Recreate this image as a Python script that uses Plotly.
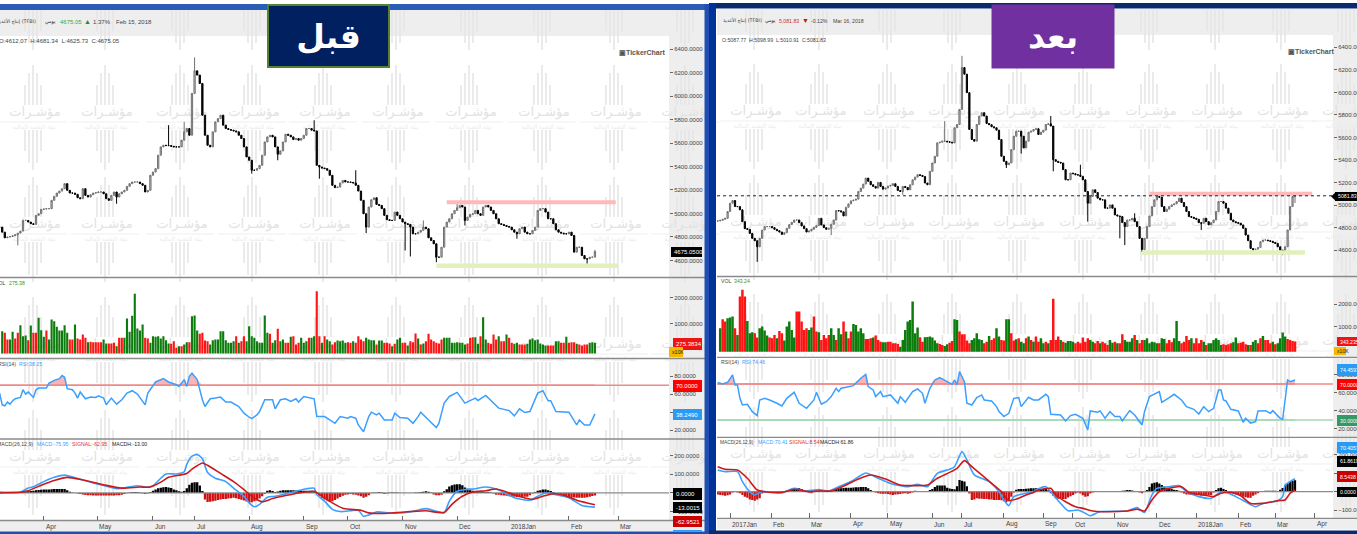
import plotly.graph_objects as go

W, H = 1357, 534

# ---------- BEFORE panel (Feb 15, 2018) ----------
L_close = [4884,4841,4793,4799,4804,4810,4819,4833,4850,4941,4941,4927,4913,4907,4984,4998,5035,5038,5041,5041,
5112,5146,5174,5191,5211,5254,5197,5174,5174,5163,5134,5126,5211,5154,5140,5160,5174,5177,5183,5183,
5168,5126,5112,5154,5183,5140,5168,5183,5197,5231,5254,5268,5268,5268,5254,5240,5183,5197,5325,5353,
5382,5496,5567,5581,5578,5578,5572,5567,5567,5567,5624,5695,5723,5666,6022,6215,6178,6107,5837,5666,
5581,5567,5695,5780,5808,5837,5752,5723,5715,5709,5703,5695,5666,5638,5567,5481,5453,5368,5368,5382,
5410,5496,5609,5652,5666,5652,5567,5504,5533,5609,5675,5666,5652,5629,5638,5624,5638,5666,5723,5723,
5709,5703,5410,5396,5387,5382,5368,5325,5240,5220,5225,5260,5282,5268,5268,5265,5260,5240,5191,5112,
4998,4884,5055,5117,5134,5077,5069,5041,4984,4947,4941,4941,5012,4984,4955,4927,4913,4907,4884,4827,
4827,4841,4856,4884,4870,4793,4770,4742,4628,4628,4713,4884,4927,4955,4998,5026,5049,5069,5055,4941,
4969,4992,4998,5026,4998,4984,5055,5069,5055,5026,4998,4955,4913,4907,4898,4890,4884,4861,4841,4827,
4870,4884,4841,4827,4827,4856,4884,5026,5041,5041,5012,4955,4955,4913,4861,4841,4833,4827,4827,4841,
4813,4671,4713,4713,4642,4614,4614,4628,4628,4675]
L_high_bar = [65,71,75,121,137,163,176,229]
L_high_val = [5752,5780,6329,5794,5368,4941,5097,4690]
L_low_bar = [7,45,97,107,123,141,156,158,168,179,199,226]
L_low_val = [4728,5083,5339,5453,5296,4833,4685,4634,4585,4898,4785,4571]
L_vol_signed = [720,-656,-402,402,694,-440,-656,949,529,554,-376,936,-656,-656,1228,758,503,-745,402,1165,
1101,885,745,745,949,656,-402,-402,974,-440,-402,-592,-465,300,-313,-300,-300,-300,-300,402,
249,-249,-249,-274,147,-465,-465,465,1203,694,1305,2144,821,745,974,-465,-440,274,529,503,
529,440,529,376,249,-236,-338,-84,147,-147,211,300,-300,1292,1317,745,-618,-656,-363,-338,
211,376,402,402,720,720,376,274,274,338,-529,274,-338,-529,338,910,529,465,338,274,
274,1317,656,-618,274,376,-809,338,402,-274,-274,503,-529,-211,-274,465,274,338,-465,465,
529,-2246,-529,274,-529,402,338,-211,-300,363,338,363,274,-300,-274,338,-274,-529,-402,-338,
465,402,376,376,-211,363,363,-274,-274,-249,147,-236,402,465,-274,-274,173,-338,-300,-631,
440,-211,249,-338,-618,-402,-338,-274,-249,-402,465,465,465,274,274,300,274,274,211,-249,
-465,-491,491,236,-529,1254,402,-274,-236,-592,-402,529,-338,-338,592,-465,-274,236,274,-211,
-211,-211,236,402,440,376,402,249,211,173,-173,-173,-173,338,338,-274,-274,503,-274,-300,
-300,236,-211,-173,-211,-211,274,300,275]
L_rsi_bar = [0,1,2,3,4,5,6,8,9,10,11,13,14,15,18,19,21,23,24,25,26,28,29,30,31,33,35,37,38,40,41,43,45,47,49,51,53,55,56,57,
59,60,63,65,68,69,71,72,73,74,76,78,79,80,81,83,85,87,89,92,94,96,97,99,100,102,105,106,108,110,112,114,115,117,121,122,125,127,129,131,134,
135,137,138,140,142,143,145,146,148,151,152,154,157,159,161,162,165,168,169,171,173,176,179,181,183,184,187,189,190,192,196,198,200,202,204,207,209,211,212,214,219,222,223,225,227,229]
L_rsi = [61.3,48.3,47.2,51.3,49,52.8,55,56.5,65.1,60.2,62.5,56.5,65.1,67,67,72.5,75.5,77.4,80.8,78.9,66.2,65.1,61.3,55.8,62.5,55,56.9,56.5,58.4,55.8,48.3,55.8,49,53.9,61.3,64,60.2,52.8,48.3,61.3,
68.8,73.7,77.4,73.7,70.7,68.8,76.3,68.8,80,83.4,76.3,53.9,46.4,50.2,55,55.8,56.9,51.3,51.3,46.4,39,34.5,33,37.1,40.8,53.9,53.9,43.8,53.9,55,52,55,51.3,57.6,55,35.2,35.2,31.5,27.8,35.2,33.4,
35.2,33.4,25.9,18.4,35.2,40.1,37.1,39,31.5,31.5,39,34.1,33.4,27.8,35.2,40.1,31.5,23,27.8,50.2,57.6,62.1,50.2,53.1,55.8,53.1,58.7,53.1,50.2,44.6,41.9,36,43.8,39.7,40.8,61.3,64,52.8,52.8,40.8,40.1,25.9,31.5,25.9,25.9,38.25]
L_macd_bar = [0,8,11,13,17,21,25,29,35,40,45,49,53,56,59,62,64,68,71,72,74,76,78,80,83,87,90,94,96,98,100,103,106,110,114,118,121,122,125,128,131,135,138,140,142,145,151,158,164,171,173,176,179,183,187,191,195,199,204,207,210,214,219,224,229]
L_macd = [5,5,26,33,61,84,96,82,58,40,23,30,39,32,39,79,102,102,114,154,198,207,184,110,79,61,26,-18,-53,-74,-61,-23,-18,-5,9,23,26,-9,-44,-88,-100,-96,-93,-126,-118,-102,-109,-102,-84,-105,-44,9,18,23,32,21,-5,-30,-39,-18,0,-9,-26,-67,-76]
L_signal_bar = [0,8,11,17,21,26,32,40,47,54,58,62,65,72,74,78,80,85,90,94,97,101,105,110,115,121,124,128,132,135,139,142,147,158,164,171,174,178,182,187,191,195,200,205,209,213,217,222,229]
L_signal = [0,4,12,47,67,84,70,44,26,32,32,58,84,105,128,161,149,105,61,18,-18,-47,-30,-14,0,9,-18,-53,-82,-88,-93,-107,-110,-100,-96,-105,-61,-18,5,12,21,5,-18,-35,-18,-4,-12,-39,-63]
L_hist = [0,0,0,0,0,0,0,2,5,7,8,9,11,12,14,16,17,18,19,19,20,21,21,21,21,21,14,7,2,0,
-3,-5,-8,-11,-12,-12,-13,-14,-14,-14,-14,-14,-14,-14,-14,-12,-12,-10,-5,-2,
3,5,5,5,2,-3,-5,-3,5,12,18,25,28,31,32,30,26,18,14,9,7,10,
25,44,55,58,58,40,10,-35,-49,-47,-44,-42,-38,-35,-33,-32,-30,-28,-26,-28,-32,-36,-40,-46,-53,-50,-44,-40,-30,-18,-5,
12,14,10,5,8,12,14,14,14,14,14,13,12,12,12,12,12,12,10,3,
-15,-26,-35,-40,-47,-44,-38,-30,-22,-15,-10,-8,
-5,-8,-10,-14,-18,-26,-20,-12,-2,3,3,5,4,-5,-3,3,3,3,2,0,0,0,0,0,0,2,
3,5,7,9,7,3,-8,-12,-12,-10,9,20,35,42,46,47,47,42,30,22,15,12,9,7,6,6,5,5,2,-3,-9,-10,-12,-14,-15,-18,-19,-21,-22,-23,-23,-21,-20,-12,-3,5,12,15,18,18,15,10,5,-5,-9,-14,-18,-21,-23,-25,-25,-26,-26,-26,-26,-23,-20,-17,-13]
L_month_bar = [-6,17,37.5,59,75,96,117,134,155,176,196,219,238]
L_month = ["2017Mar","Apr","May","Jun","Jul","Aug","Sep","Oct","Nov","Dec","2018Jan","Feb","Mar"]
L_res_bar, L_res_level = [172,237], [5095,5095]
L_sup_bar, L_sup_level = [168,238], [4555,4555]

# ---------- AFTER panel (Mar 16, 2018) ----------
R_close = [4858,4864,4873,4882,4942,5016,5040,4986,4986,4957,4852,4790,4784,4748,4704,4683,4629,4704,4778,4808,
4808,4808,4799,4784,4772,4760,4739,4754,4793,4826,4846,4867,4867,4843,4814,4790,4760,4769,4784,4802,
4817,4882,4823,4799,4784,4793,4829,4867,4951,4948,4939,4903,4980,5010,5037,5043,5052,5120,5150,5186,
5239,5210,5180,5165,5150,5201,5165,5141,5150,5168,5174,5189,5165,5129,5120,5165,5156,5135,5180,5224,
5248,5269,5263,5254,5195,5180,5299,5373,5433,5552,5558,5567,5567,5561,5558,5552,5686,5715,5849,6221,
6162,5998,5671,5582,5567,5715,5790,5820,5790,5724,5713,5695,5686,5665,5582,5433,5388,5358,5373,5492,
5611,5656,5656,5611,5507,5567,5647,5656,5671,5677,5626,5647,5665,5715,5721,5701,5403,5388,5379,5373,
5314,5224,5224,5284,5278,5269,5266,5254,5224,5120,5016,5076,5135,5111,5061,5046,5046,4972,4972,5001,
4972,4912,4903,4897,4844,4808,4867,4867,4882,4852,4808,4704,4605,4704,4808,4903,4986,5046,5076,5070,
4986,4942,4963,4986,5001,5010,5031,5061,5022,4986,4942,4897,4891,4882,4873,4843,4838,4882,4852,4823,
4843,4867,4942,5031,5031,5016,4972,4927,4867,4852,4843,4838,4823,4793,4733,4683,4614,4605,4608,4623,
4674,4689,4689,4683,4677,4668,4659,4629,4599,4585,4629,4778,4986,5076,5082]
R_high_bar = [92,99,135,147,169,234]
R_high_val = [5745,6325,5790,5358,4927,5105]
R_low_bar = [16,46,75,117,123,136,150,163,165,172,196,217,229,234]
R_low_val = [4495,4733,5090,5329,5457,5299,4852,4704,4644,4584,4778,4570,4555,5018]
R_vol_signed = [927,-1329,-1225,1374,1403,1448,-927,630,-2341,-2638,-2341,1255,704,749,-704,-511,927,1002,823,600,
-511,-481,-630,481,-808,-704,377,1002,1225,853,511,-1671,-1671,-1225,-853,-927,853,957,-1448,-778,
749,-406,-630,-481,-630,927,630,-406,927,659,-1225,778,-481,-778,1121,1076,778,927,704,-451,
-451,-481,511,-600,-406,-332,302,302,-332,-332,-258,-258,-228,109,406,853,1225,1299,2118,704,
957,-525,-332,525,540,555,511,377,258,-228,-183,139,213,-287,-362,1329,1299,-778,-659,-659,
-377,-258,406,481,704,436,406,-258,-332,585,-406,-481,927,555,-406,-377,1329,1329,-704,-377,
436,-481,332,258,-481,555,-406,332,
-555,-332,481,258,-332,258,-406,-2237,-406,-555,406,-332,287,362,362,332,-258,-332,-258,-511,
-332,-481,406,332,-258,-362,258,-332,-258,-183,406,287,-332,258,-258,-659,406,332,332,481,
-630,406,-258,-406,406,481,258,332,302,258,-258,481,451,-258,-406,-300,481,1255,362,-258,-332,
-585,-406,481,-258,-481,-258,-406,332,-183,258,258,406,481,406,183,-213,-183,-213,-258,302,
511,-258,-287,-332,-213,183,-183,332,406,-258,-481,585,-406,-406,-258,332,-213,258,481,734,555,-451,-400,-360,-343]
R_rsi_bar = [0,2,4,6,7,8,9,10,12,14,16,17,19,21,24,26,28,31,33,36,39,40,42,44,46,48,49,50,52,55,58,60,61,63,64,66,67,70,73,74,76,79,81,83,84,86,88,90,93,95,96,97,98,100,101,103,105,107,108,111,113,114,116,118,120,122,123,126,128,130,133,134,135,139,141,143,145,148,150,151,154,155,157,159,161,163,164,167,169,172,173,175,179,180,183,185,188,190,193,195,197,199,201,203,204,205,206,208,211,213,214,216,218,219,222,224,225,228,229,230,231,232,234]
R_rsi = [71.5,70,71.8,80,68.9,68.9,54,46.6,47.4,39.2,34.8,52.2,54,52.2,48.5,45.5,54,60.7,48.5,42.9,52.2,60.7,47.4,50.3,55.9,65.2,61.5,65.2,66.3,68.1,76.3,80.7,67,63.3,55.9,61.5,55.9,57.8,48.5,55.9,49.6,61.5,64.4,59.6,48.5,65.2,74.4,77,72.6,69.6,74.4,68.9,83.7,72.6,48.5,46.6,54.8,57.8,52.2,51.1,44.8,39.2,33.7,37.4,54,54.8,44.8,55.2,52.2,52.2,58.5,55.9,36.3,35.5,28.9,34.8,36.3,31.8,18.9,40,38.5,40,31.8,39.2,33.7,33.7,28.9,40.3,35.5,24.4,39.2,55.9,61.5,49.6,54.8,58.5,52.2,44.8,41.8,36.6,44.8,39.2,42.9,63.3,63.3,52.2,51.1,41.8,40,27.4,31.8,26.3,28.1,40,40.3,37.4,40.3,31.8,30.7,54,74.4,72.6,74.46]
R_macd_bar = [0,3,8,10,13,15,18,26,31,35,41,45,49,54,60,65,70,77,81,85,89,94,96,99,101,104,110,114,116,118,120,125,128,129,133,135,139,142,146,149,151,155,166,170,173,176,178,183,187,190,195,200,203,206,210,214,218,221,227,229,230,232,234]
R_macd = [118,109,109,55,0,-18,0,-5,18,4,11,4,27,55,102,73,45,27,40,27,100,122,136,218,173,91,55,0,-45,-76,-27,-9,0,9,27,0,-64,-104,-100,-118,-131,-109,-105,-87,-113,-18,18,27,33,0,-27,-36,-9,-4,-27,-55,-82,-64,-49,-27,36,55,70]
R_signal_bar = [0,3,8,12,16,19,26,31,37,41,46,52,57,62,68,74,79,85,89,94,97,100,103,107,111,115,118,122,125,128,130,135,137,141,145,148,152,156,166,170,173,176,179,183,188,191,197,201,204,208,212,216,221,227,230,232,234]
R_signal = [136,122,118,73,9,0,-4,13,0,4,4,36,69,91,69,36,33,36,73,105,127,169,136,91,45,0,-49,-36,-18,-4,9,18,-18,-55,-82,-91,-105,-109,-105,-96,-105,-45,0,18,27,-4,-18,-27,-9,-4,-22,-64,-64,-49,-45,-9,8.5]
R_hist = [-16,-18,-20,-22,-20,-15,-5,0,-5,-9,-18,-27,-33,-42,-46,-50,-42,-36,-10,-5,0,-2,-2,-2,-3,-3,-4,-3,3,8,11,14,17,18,14,9,2,-5,-9,-3,7,6,5,4,4,6,9,12,15,17,18,20,21,22,22,23,24,24,25,25,25,18,9,3,-5,-9,-11,-11,-12,-13,-15,-18,-16,-14,-13,-10,-8,
-11,-9,-5,5,4,4,4,4,4,9,15,25,33,33,33,33,22,17,14,13,30,64,60,55,30,-10,-45,-42,-36,-38,-38,-40,-40,-42,-42,-45,-45,-45,-47,-52,-58,-45,-27,-5,10,15,15,15,16,17,18,18,18,17,15,16,18,8,-9,-22,-36,-38,-38,-40,-40,-32,-25,-18,-10,-4,-10,-20,-27,-25,-10,-4,0,3,4,2,-2,0,4,4,4,4,4,5,7,9,9,6,4,1,-5,-9,-2,9,25,45,48,51,45,36,28,22,18,14,11,9,5,-4,-10,-15,-15,-18,-18,-20,-20,-22,-22,-21,-20,-18,-5,9,18,22,15,9,0,-5,-10,-15,-18,-22,-27,-30,-33,-33,-22,-15,-9,0,3,5,5,5,5,5,4,10,20,36,45,55,60,62]
R_month_bar = [5,21.6,37,54,69,87,99,116,132,144,161,178,194,211,226,242]
R_month = ["2017Jan","Feb","Mar","Apr","May","Jun","Jul","Aug","Sep","Oct","Nov","Dec","2018Jan","Feb","Mar","Apr"]
R_res_bar, R_res_level = [175,241], [5100,5100]
R_sup_bar, R_sup_level = [172,238], [4578,4578]
R_last = 5081.83

price_ticks = [4600,4800,5000,5200,5400,5600,5800,6000,6200,6400]
vol_ticks = [1000,2000]
rsi_ticks = [20,40,60,80]
macd_ticks = [-100,0,100,200]

# ---------- pixel layout ----------
FONT = "Liberation Sans"
ARABIC = "DejaVu Sans"
FS = 6
LEG = 5.2
px = lambda x: x / W
py = lambda y: 1 - y / H

L = dict(x0=0, x1=669, xr=705, rng=[0.15, 257.5], seps=[277.5, 358.5, 439, 520.5], top=36, barw=0.82,
         price=[4455, 6511], vol=[-324, 2767], floor=-134, rsi=[10.3, 99.8], macd=[-148, 290])
R = dict(x0=717, x1=1333, xr=1357, rng=[-0.3, 249.4], seps=[276.5, 357.3, 437.3, 518.3], top=35, barw=1.0,
         price=[4365, 6510], vol=[-366, 3232], floor=-116, rsi=[10.7, 99.6], macd=[-145, 296])

fig = go.Figure()
shapes, anns = [], []

def rect(x0, y0, x1, y1, color, layer="below"):
    shapes.append(dict(type="rect", xref="paper", yref="paper", x0=px(x0), x1=px(x1), y0=py(y0), y1=py(y1),
                       fillcolor=color, line=dict(width=0), layer=layer))

def hline(x0, x1, y, color, w=1.5, layer="above"):
    shapes.append(dict(type="line", xref="paper", yref="paper", x0=px(x0), x1=px(x1), y0=py(y), y1=py(y),
                       line=dict(color=color, width=w), layer=layer))

def text(x, y, s, color="#444", size=FS, anchor="left", font=FONT):
    anns.append(dict(xref="paper", yref="paper", x=px(x), y=py(y), text=s, showarrow=False, xanchor=anchor,
                     yanchor="middle", borderpad=0, font=dict(color=color, size=size, family=font)))

def box(x0, y0, x1, y1, s, bg, fg="white", size=FS):
    rect(x0, y0, x1, y1, bg, "above")
    text(x0 + 2, (y0 + y1) / 2, s, fg, size)

# chart frames and grey bands
for P, top_y0, top_y1, bottom_y0 in ((L, 10, 36, 520.5), (R, 9, 35, 518.3)):
    rect(P["x0"] if P is R else 0, top_y0, P["xr"], top_y1, "#eeeeee")
    rect(P["x1"], top_y0, P["xr"], bottom_y0 + 11, "#eeeeee")
    rect(P["x0"] if P is R else 0, bottom_y0, P["xr"], bottom_y0 + 11, "#eeeeee")
    for s in P["seps"]:
        hline(P["x0"], P["xr"], s, "#8a8a8a", 1.3)
rect(0, 4, 709, 10, "#2a5db5", "above")
rect(704.5, 4, 709, 534, "#1f50b0", "above")
rect(0, 531.5, 709, 534, "#1f50b0", "above")
rect(709, 3, 1357, 8.5, "#0b2a6e", "above")
rect(709, 3, 716, 534, "#003399", "above")
rect(709, 530.5, 1357, 534, "#0b2a6e", "above")

# watermark tiles (decorative background, pixel-positioned axes)
wm_cols_L = [33,105,180,252,323,396,469,542,614,685]
wm_cols_R = [754,819,887,952,1017,1083,1149,1215,1281,1346]
wm_rows_L = [-7,113,225,345,458]
wm_rows_R = [-7,112,223,342,455]
bx, by, lx, ly, tx, ty, sx, sy = [], [], [], [], [], [], [], []
for cols, rows in ((wm_cols_L, wm_rows_L), (wm_cols_R, wm_rows_R)):
    for c in cols:
        for T in rows:
            for dx, up, dn in ((-8, 28, 38), (-4, 40, 50), (0, 48, 57), (4, 40, 50), (8, 28, 38)):
                bx += [c + dx, c + dx, None, c + dx, c + dx, None]
                by += [T - up, T - 8, None, T + 17, T + dn, None]
            if T > 0:
                lx += [c - 34, c + 34, None]
                ly += [T + 9, T + 9, None]
                tx.append(c + 2); ty.append(T)
                sx.append(c + 1); sy.append(T + 14)
fig.add_trace(go.Scatter(x=bx, y=by, mode="lines", line=dict(color="#e4e4e4", width=1.5), xaxis="x", yaxis="y"))
fig.add_trace(go.Scatter(x=lx, y=ly, mode="lines", line=dict(color="#efefef", width=1), xaxis="x", yaxis="y"))
fig.add_trace(go.Scatter(x=tx, y=ty, mode="text", text=["مؤشـرات"] * len(tx), xaxis="x", yaxis="y",
                         textfont=dict(color="#e2e2e2", size=13, family=ARABIC)))
fig.add_trace(go.Scatter(x=sx, y=sy, mode="text", text=["بيئة التقنية المالية"] * len(sx), xaxis="x", yaxis="y",
                         textfont=dict(color="#ececec", size=6, family=ARABIC)))

axes = dict(
    xaxis=dict(domain=[0, 1], range=[0, W], visible=False, fixedrange=True),
    yaxis=dict(domain=[0, 1], range=[H, 0], visible=False, fixedrange=True),
)

def aligned(series, last):
    return list(range(last - len(series) + 1, last + 1))

def panel(P, xn, yn, close, hb, hv, lb, lv, vols, rb, rv, mb, mv, sb, sv, hist, mbar, mname,
          res_b, res_l, sup_b, sup_l, with_low, last_line=None):
    xa, ya = f"x{xn}", [f"y{yn + i}" for i in range(4)]
    n = len(close) - 1
    opens = [close[0]] + close[:-1]
    highs = [max(a, b) for a, b in zip(opens, close)]
    lows = [min(a, b) for a, b in zip(opens, close)]
    for b, v in zip(hb, hv):
        highs[b] = v
    for b, v in zip(lb, lv):
        lows[b] = v
    # support / resistance bands
    fig.add_trace(go.Scatter(x=res_b, y=res_l, mode="lines", line=dict(color="#ffb9b9", width=4), xaxis=xa, yaxis=ya[0]))
    fig.add_trace(go.Scatter(x=sup_b, y=sup_l, mode="lines", line=dict(color="#e2f0bd", width=4.5), xaxis=xa, yaxis=ya[0]))
    if last_line is not None:
        fig.add_trace(go.Scatter(x=P["rng"], y=[last_line, last_line], mode="lines",
                                 line=dict(color="#222", width=1, dash="dot"), xaxis=xa, yaxis=ya[0]))
    fig.add_trace(go.Candlestick(x=list(range(n + 1)), open=opens, high=highs, low=lows, close=close, whiskerwidth=0,
                                 increasing=dict(line=dict(color="#707070", width=1), fillcolor="#c8c8c8"),
                                 decreasing=dict(line=dict(color="#000000", width=1), fillcolor="#000000"),
                                 xaxis=xa, yaxis=ya[0]))
    # volume
    fig.add_trace(go.Bar(x=aligned(vols, n), y=[abs(v) - P["floor"] for v in vols], base=P["floor"], width=P["barw"],
                         marker=dict(color=["#0c7c0c" if v > 0 else "#ff1414" for v in vols], line=dict(width=0)),
                         xaxis=xa, yaxis=ya[1]))
    # RSI
    hi = [max(v, 70) for v in rv]
    fig.add_trace(go.Scatter(x=rb, y=[70] * len(rb), mode="lines", line=dict(color="#f08a8a", width=1.4), xaxis=xa, yaxis=ya[2]))
    fig.add_trace(go.Scatter(x=rb, y=hi, mode="lines", line=dict(width=0), fill="tonexty", fillcolor="#f9b5b5", xaxis=xa, yaxis=ya[2]))
    if with_low:
        lo = [min(v, 30) for v in rv]
        fig.add_trace(go.Scatter(x=rb, y=[30] * len(rb), mode="lines", line=dict(color="#a5d8b5", width=1.4), xaxis=xa, yaxis=ya[2]))
        fig.add_trace(go.Scatter(x=rb, y=lo, mode="lines", line=dict(width=0), fill="tonexty", fillcolor="#c4e6cf", xaxis=xa, yaxis=ya[2]))
    fig.add_trace(go.Scatter(x=P["rng"], y=[70, 70], mode="lines", line=dict(color="#f08a8a", width=1.4), xaxis=xa, yaxis=ya[2]))
    if with_low:
        fig.add_trace(go.Scatter(x=P["rng"], y=[30, 30], mode="lines", line=dict(color="#a5d8b5", width=1.4), xaxis=xa, yaxis=ya[2]))
    fig.add_trace(go.Scatter(x=rb, y=rv, mode="lines", line=dict(color="#3a9fff", width=1.5), xaxis=xa, yaxis=ya[2]))
    # MACD
    fig.add_trace(go.Bar(x=aligned(hist, n), y=hist, width=0.9,
                         marker=dict(color=["#000000" if v >= 0 else "#d01010" for v in hist], line=dict(width=0)),
                         xaxis=xa, yaxis=ya[3]))
    fig.add_trace(go.Scatter(x=P["rng"], y=[0, 0], mode="lines", line=dict(color="#8c8c8c", width=1.3), xaxis=xa, yaxis=ya[3]))
    fig.add_trace(go.Scatter(x=mb, y=mv, mode="lines", line=dict(color="#3a9fff", width=1.6, shape="spline", smoothing=0.6), xaxis=xa, yaxis=ya[3]))
    fig.add_trace(go.Scatter(x=sb, y=sv, mode="lines", line=dict(color="#cc1a1a", width=1.6, shape="spline", smoothing=0.6), xaxis=xa, yaxis=ya[3]))

    # axes
    axes[f"xaxis{xn}"] = dict(domain=[px(P["x0"]), px(P["x1"])], range=P["rng"], anchor=ya[3], showgrid=False, zeroline=False,
                              showticklabels=False, tickmode="array", tickvals=mbar, ticks="inside", ticklen=5,
                              tickcolor="#666", tickwidth=1, showline=False, fixedrange=True)
    seps = P["seps"]
    spans = [(P["top"], seps[0]), (seps[0], seps[1]), (seps[1], seps[2]), (seps[2], seps[3])]
    ranges = [P["price"], P["vol"], P["rsi"], P["macd"]]
    ticks = [price_ticks, vol_ticks, rsi_ticks, macd_ticks]
    for i in range(4):
        axes[f"yaxis{yn + i}"] = dict(domain=[py(spans[i][1]), py(spans[i][0])], range=ranges[i], anchor=xa, side="right",
                                      showgrid=False, zeroline=False, showline=False, tickmode="array", tickvals=ticks[i],
                                      tickformat=".4f", ticks="outside", ticklen=3, tickcolor="#666", tickwidth=1,
                                      tickfont=dict(size=FS, color="#444", family=FONT), fixedrange=True)
    for b, name in zip(mbar, mname):
        anns.append(dict(xref=xa, yref="paper", x=b + 0.4, y=py(seps[3] + 6), text=name, showarrow=False, xanchor="left",
                         yanchor="middle", borderpad=0, font=dict(color="#444", size=FS + 0.5, family=FONT)))

panel(L, 2, 2, L_close, L_high_bar, L_high_val, L_low_bar, L_low_val, L_vol_signed, L_rsi_bar, L_rsi,
      L_macd_bar, L_macd, L_signal_bar, L_signal, L_hist, L_month_bar, L_month,
      L_res_bar, L_res_level, L_sup_bar, L_sup_level, False)
panel(R, 3, 6, R_close, R_high_bar, R_high_val, R_low_bar, R_low_val, R_vol_signed, R_rsi_bar, R_rsi,
      R_macd_bar, R_macd, R_signal_bar, R_signal, R_hist, R_month_bar, R_month,
      R_res_bar, R_res_level, R_sup_bar, R_sup_level, True, R_last)

# header and indicator legends
NAME = "إنتاج الأغذية (TFBI)"
text(37, 22, NAME, "#444", 4.8, "right", ARABIC)
text(44, 22, "يومي", "#222", 4.8, "left", ARABIC)
text(59, 22, "4675.05", "#3aa83a")
text(83, 22, "▲", "#1a8a3a", 7)
text(92, 22, "1.37%")
text(115, 22, "Feb 15, 2018")
text(-2, 41, "O:4612.07  H:4681.34  L:4625.73  C:4675.05", "#444", FS)
text(-6, 283, "VOL", "#444", LEG); text(8, 283, "275.38", "#2a9a2a", LEG)
text(-3, 364, "RSI(14)", "#444", LEG); text(18, 364, "RSI:38.25", "#3a9fff", LEG)
text(-4, 444, "MACD(26,12,9)", "#444", LEG); text(36, 444, "MACD:-75.95", "#3a9fff", LEG)
text(71, 444, "SIGNAL:-62.95", "#e03030", LEG); text(111, 444, "MACDH:-13.00", "#222", LEG)
text(618, 53, "<b>▣TickerChart</b>", "#555", 7)

text(722, 21, NAME, "#444", 4.8, "left", ARABIC)
text(764, 21, "يومي", "#222", 4.8, "left", ARABIC)
text(778, 21, "5,081.83", "#c83030", LEG)
text(801, 21, "▼", "#cc1010", 7)
text(810, 21, "-0.12%", "#444", LEG)
text(832, 21, "Mar 16, 2018", "#444", LEG)
text(721, 40, "O:5087.77  H:5098.99  L:5010.91  C:5081.83", "#444", LEG)
text(720, 281, "VOL", "#444", LEG); text(733, 281, "343.24", "#2a9a2a", LEG)
text(720, 362, "RSI(14)", "#444", LEG); text(741, 362, "RSI:74.46", "#3a9fff", LEG)
text(719, 442, "MACD(26,12,9)", "#444", 4.8); text(757, 442, "MACD:70.41", "#3a9fff", LEG)
text(788, 442, "SIGNAL:8.54", "#e03030", LEG); text(819, 442, "MACDH:61.86", "#222", LEG)
text(1287, 52, "<b>▣TickerChart</b>", "#555", 7)

# axis value tags
box(671, 247, 702, 257, "4675.0500", "#000000")
box(673, 338, 702, 350, "275.3834", "#ee1414")
box(669, 347, 683, 357, "x10K", "#f5b800", "#222", LEG)
box(673, 380, 702, 392, "70.0000", "#ff0000")
box(673, 409, 702, 420, "38.2490", "#2a9bf5")
box(673, 488, 702, 500, "0.0000", "#000000")
box(673, 502, 702, 513, "-13.0015", "#000000")
box(673, 516, 702, 527, "-62.9521", "#cc0000")
rect(673, 530, 702, 531.5, "#2a9bf5", "above")

shapes.append(dict(type="path", xref="paper", yref="paper", layer="above", fillcolor="#000000", line=dict(width=0),
                   path=f"M {px(1331)} {py(196.5)} L {px(1336)} {py(192)} L {px(1336)} {py(201)} Z"))
box(1335, 192, 1357, 201, "5081.83", "#000000", "white", LEG)
box(1337, 337, 1357, 346, "343.235", "#ee1414", "white", LEG)
box(1334, 347, 1346, 355, "x10K", "#f5b800", "#222", LEG)
box(1337, 364, 1357, 376, "74.4597", "#2a9bf5", "white", LEG)
box(1337, 379, 1357, 390, "70.0000", "#ff0000", "white", LEG)
box(1337, 415, 1357, 426, "30.0000", "#339966", "white", LEG)
box(1337, 442, 1357, 453, "70.4057", "#2a9bf5", "white", LEG)
box(1337, 456, 1357, 467, "61.8619", "#000000", "white", LEG)
box(1337, 471, 1357, 482, "8.5438", "#cc0000", "white", LEG)
box(1337, 487, 1357, 497, "0.0000", "#000000", "white", LEG)

# before / after captions
anns.append(dict(xref="paper", yref="paper", x=px(328.5), y=py(36), text="<b>قبل</b>", showarrow=False, xanchor="center",
                 yanchor="middle", width=119, height=60, bgcolor="#002060", bordercolor="#548235", borderwidth=2, borderpad=0,
                 font=dict(color="white", size=33, family=ARABIC)))
anns.append(dict(xref="paper", yref="paper", x=px(1053), y=py(36.5), text="<b>بعد</b>", showarrow=False, xanchor="center",
                 yanchor="middle", width=122, height=63, bgcolor="#7030A0", borderpad=0,
                 font=dict(color="white", size=33, family=ARABIC)))

fig.update_layout(width=W, height=H, margin=dict(l=0, r=0, t=0, b=0, autoexpand=False), autosize=False, showlegend=False, hovermode=False,
                  paper_bgcolor="white", plot_bgcolor="rgba(0,0,0,0)", bargap=0.15, shapes=shapes, annotations=anns,
                  **axes)
for k in list(fig.layout):
    if k.startswith("xaxis") and k != "xaxis":
        fig.layout[k].rangeslider = dict(visible=False)

fig.write_html("out.html", default_width=f"{W}px", default_height=f"{H}px",
               config={"displayModeBar": False, "staticPlot": True, "responsive": False},
               post_script="document.body.style.margin='0';document.documentElement.style.overflow='hidden';")
